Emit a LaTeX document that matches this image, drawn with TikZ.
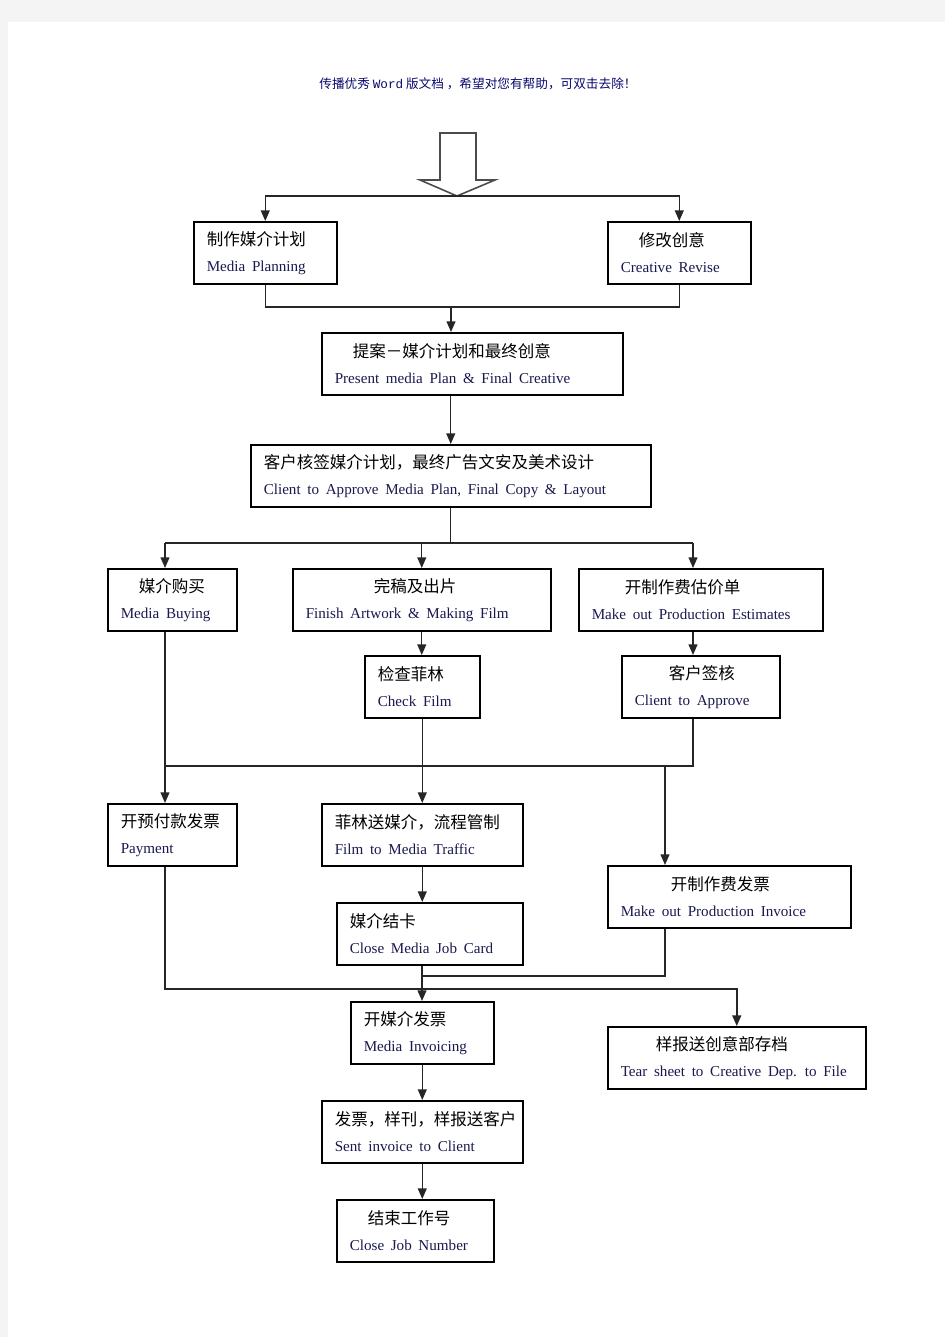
\documentclass[tikz,border=0pt]{standalone}
\usepackage{fontspec}
\setmainfont{Liberation Serif}
\newfontfamily\cjk{Noto Sans CJK SC}
\newfontfamily\wordfont{Liberation Mono}
\usepackage{tikz}
\usetikzlibrary{arrows.meta}

\definecolor{entext}{RGB}{25,25,80}
\definecolor{headtext}{RGB}{10,10,110}
\definecolor{pagegray}{RGB}{244,244,244}

\newdimen\pxunit \pxunit=0.02cm
% box text: indent of the chinese line, chinese line, english line
\newcommand{\lbl}[3]{\hspace*{#1\pxunit}{\cjk\fontsize{9.4pt}{14.7pt}\selectfont #2}\\
  {\color{entext}\fontsize{8.6pt}{14.7pt}\selectfont\spaceskip=0.44em #3}}

\begin{document}
\begin{tikzpicture}[x=0.02cm, y=-0.02cm,
    box/.style={draw, line width=0.9pt, anchor=north west, align=left,
      inner xsep=0.26cm, minimum height=1.24cm,
      font=\fontsize{9pt}{14.7pt}\selectfont},
    link/.style={line width=0.8pt, draw=black!85},
    arr/.style={link, -{Triangle[length=6pt,width=5pt]}}]

  % page
  \fill[pagegray] (0,0) rectangle (945,1337);
  \fill[white] (8,22) rectangle (945,1337);
  \useasboundingbox (0,0) rectangle (945,1337);

  \node[headtext] (head) at (478,84)
    {\cjk\fontsize{7.2pt}{8pt}\selectfont 传播优秀 {\wordfont Word} 版文档 ，希望对您有帮助，可双击去除！};

  % hollow arrow at the top
  \draw[line width=0.9pt, black!70] (440,133) -- (476,133) -- (476,180) -- (495,180)
    -- (457,196) -- (420,180) -- (440,180) -- cycle;
  \coordinate (tip) at (457,196);

  % boxes
  \node[box, text width=2.34cm] (mp) at (193,221) {\lbl{0}{制作媒介计划}{Media Planning}};
  \node[box, text width=2.34cm] (cr) at (607,221) {\lbl{18}{修改创意}{Creative Revise}};
  \node[box, text width=5.50cm] (pr) at (321,332) {\lbl{18}{提案－媒介计划和最终创意}{Present media Plan \& Final Creative}};
  \node[box, text width=7.48cm] (cl) at (250,444) {\lbl{0}{客户核签媒介计划，最终广告文安及美术设计}{Client to Approve Media Plan, Final Copy \& Layout}};

  \node[box, text width=2.06cm] (mb) at (107,568) {\lbl{18}{媒介购买}{Media Buying}};
  \node[box, text width=4.64cm] (fa) at (292,568) {\lbl{68}{完稿及出片}{Finish Artwork \& Making Film}};
  \node[box, text width=4.36cm] (pe) at (578,568) {\lbl{33}{开制作费估价单}{Make out Production Estimates}};
  \node[box, text width=1.78cm] (cf) at (364,655) {\lbl{0}{检查菲林}{Check Film}};
  \node[box, text width=2.64cm] (ca) at (621,655) {\lbl{34}{客户签核}{Client to Approve}};

  \node[box, text width=2.06cm] (pay) at (107,803) {\lbl{0}{开预付款发票}{Payment}};
  \node[box, text width=3.50cm] (fm) at (321,803) {\lbl{0}{菲林送媒介，流程管制}{Film to Media Traffic}};
  \node[box, text width=4.34cm] (pi) at (607,865) {\lbl{50}{开制作费发票}{Make out Production Invoice}};
  \node[box, text width=3.20cm] (cj) at (336,902) {\lbl{0}{媒介结卡}{Close Media Job Card}};

  \node[box, text width=2.34cm] (mi) at (350,1001) {\lbl{0}{开媒介发票}{Media Invoicing}};
  \node[box, text width=4.64cm] (ts) at (607,1026) {\lbl{35}{样报送创意部存档}{Tear sheet to Creative Dep. to File}};
  \node[box, text width=3.50cm] (si) at (321,1100) {\lbl{0}{发票，样刊，样报送客户}{Sent invoice to Client}};
  \node[box, text width=2.62cm] (cn) at (336,1199) {\lbl{18}{结束工作号}{Close Job Number}};

  % bends
  \coordinate (j1) at (451,307);
  \coordinate (c1) at (165,543);
  \coordinate (c3) at (693,543);
  \coordinate (c4) at (693,766);
  \coordinate (c5) at (665,766);
  \coordinate (c6) at (422,976);
  \coordinate (c7) at (165,989);

  % connectors
  \draw[arr] (tip) -| (mp.north);
  \draw[arr] (tip) -| (cr.north);
  \draw[link] (mp.south) |- (j1) -| (cr.south);
  \draw[arr] (j1) -- (j1 |- pr.north);
  \draw[arr] (cl.north |- pr.south) -- (cl.north);

  \draw[link] (cl.south) -- (cl.south |- c1);
  \draw[link] (c1) -- (c3);
  \draw[arr] (c1) -- (c1 |- mb.north);
  \draw[arr] (fa.north |- c1) -- (fa.north);
  \draw[arr] (c3) -- (c3 |- pe.north);

  \draw[arr] (fa.south) -- (fa.south |- cf.north);
  \draw[arr] (c3 |- pe.south) -- (c3 |- ca.north);

  \draw[arr] (c1 |- mb.south) -- (c1 |- pay.north);
  \draw[arr] (cf.south) -- (cf.south |- fm.north);
  \draw[link] (c3 |- ca.south) -- (c4) -- (c4 -| c1);
  \draw[arr] (c5) -- (c5 |- pi.north);

  \draw[arr] (fm.south) -- (fm.south |- cj.north);
  \draw[arr] (c6 |- cj.south) -- (c6 |- mi.north);
  \draw[link] (c5 |- pi.south) |- (c6);
  \draw[arr, line width=1pt] (c1 |- pay.south) -- (c7) -| (ts.north);

  \draw[arr] (mi.south) -- (mi.south |- si.north);
  \draw[arr] (si.south) -- (si.south |- cn.north);

\end{tikzpicture}
\end{document}
